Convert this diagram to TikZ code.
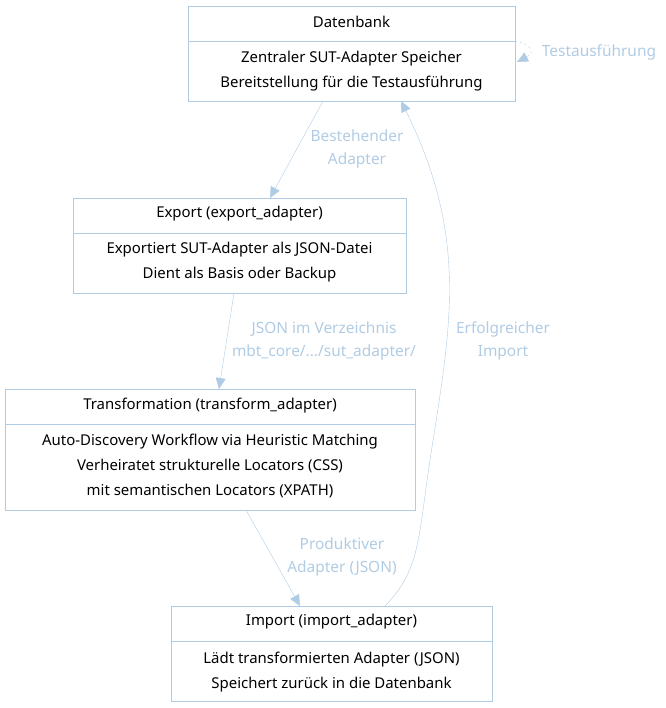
\documentclass[tikz,border=0pt]{standalone}
\usepackage{fontspec}
\setmainfont{Noto Sans}
\usetikzlibrary{arrows.meta}
\definecolor{edgeblue}{HTML}{B0CCE4}
\begin{document}
\begin{tikzpicture}[x=1bp,y=-1bp,
  record/.style={draw=edgeblue,inner sep=0pt},
  txt/.style={font=\fontsize{15}{25}\selectfont,align=center,inner sep=0pt},
  lbl/.style={font=\fontsize{15.5}{23}\selectfont,text=edgeblue,align=center,inner sep=0pt},
  flow/.style={draw=edgeblue,-{Triangle[length=11pt,width=10pt]}}]
  \useasboundingbox (0,0) rectangle (666,708);

  % boxes
  \node[record,minimum width=327bp,minimum height=95bp] (db) at (351.5,53.5) {};
  \node[record,minimum width=333bp,minimum height=95bp] (ex) at (239.5,245.5) {};
  \node[record,minimum width=410bp,minimum height=121bp] (tr) at (210,449.5) {};
  \node[record,minimum width=321bp,minimum height=95bp] (im) at (331.5,653.5) {};

  \draw[edgeblue] (188,41) -- (515,41);
  \draw[edgeblue] (73,233) -- (406,233);
  \draw[edgeblue] (5,424) -- (415,424);
  \draw[edgeblue] (171,641) -- (492,641);

  % texts
  \node[txt] (dbt) at (351.5,22) {Datenbank};
  \node[txt] (dbb) at (351.5,71) {Zentraler SUT-Adapter Speicher\\Bereitstellung für die Testausführung};
  \node[txt] (ext) at (239.5,214) {Export (export\_adapter)};
  \node[txt] (exb) at (239.5,262) {Exportiert SUT-Adapter als JSON-Datei\\Dient als Basis oder Backup};
  \node[txt] (trt) at (210,406) {Transformation (transform\_adapter)};
  \node[txt] (trb) at (210,466) {Auto-Discovery Workflow via Heuristic Matching\\Verheiratet strukturelle Locators (CSS)\\mit semantischen Locators (XPATH)};
  \node[txt] (imt) at (331.5,622) {Import (import\_adapter)};
  \node[txt] (imb) at (331.5,672) {Lädt transformierten Adapter (JSON)\\Speichert zurück in die Datenbank};

  % edges
  \coordinate (db1) at (323,101);
  \coordinate (ex0) at (270,198);
  \coordinate (ex1) at (234,293);
  \coordinate (tr0) at (219,389);
  \coordinate (tr1) at (246,510);
  \coordinate (im0) at (300,606);
  \coordinate (im1) at (385,606);
  \coordinate (db2) at (401,101);
  \coordinate (db3) at (515,41);
  \coordinate (db4) at (517,62);
  \draw[flow] (db1) -- (ex0);
  \draw[flow] (ex1) -- (tr0);
  \draw[flow] (tr1) -- (im0);
  \draw[flow] (im1) .. controls (420,570) and (418,540) .. (430,460)
    .. controls (450,330) and (470,240) .. (db2);
  \draw[flow,dash pattern=on 2pt off 3pt] (db3) .. controls (530,44) and (536,52) .. (db4);

  \node[lbl] (l1) at (357,149) {Bestehender\\Adapter};
  \node[lbl] (l2) at (324,341) {JSON im Verzeichnis\\mbt\_core/.../sut\_adapter/};
  \node[lbl] (l3) at (342,557) {Produktiver\\Adapter (JSON)};
  \node[lbl] (l4) at (503,341) {Erfolgreicher\\Import};
  \node[lbl] (l5) at (599,52) {Testausführung};
\end{tikzpicture}
\end{document}
